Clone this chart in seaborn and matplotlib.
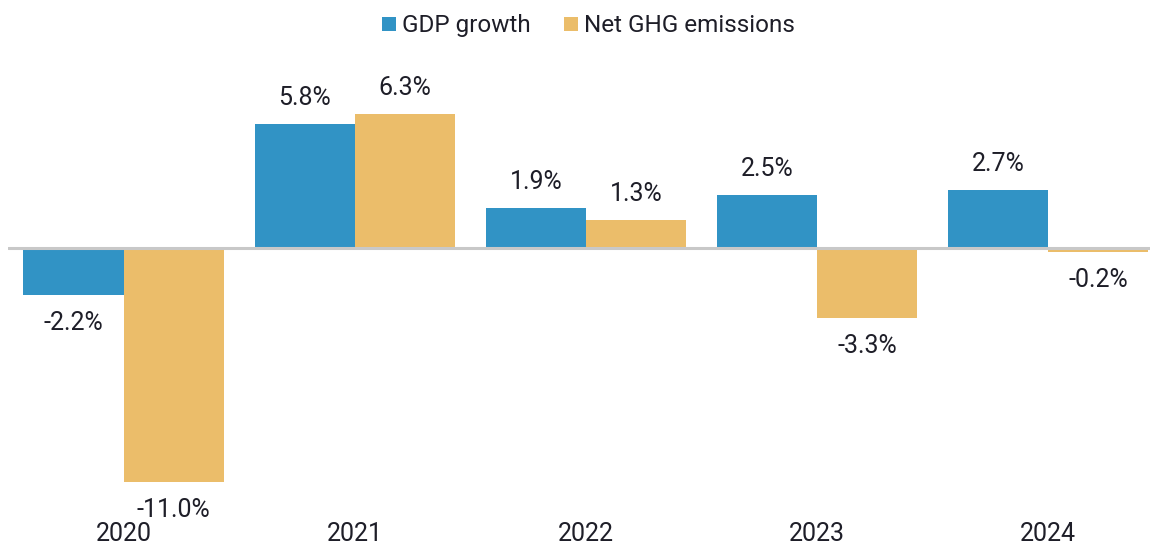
import matplotlib
matplotlib.use("Agg")
import matplotlib.pyplot as plt
import seaborn as sns
import pandas as pd

years = ["2020", "2021", "2022", "2023", "2024"]
gdp_growth = [-2.2, 5.8, 1.9, 2.5, 2.7]
ghg_emissions = [-11.0, 6.3, 1.3, -3.3, -0.2]
series_names = ["GDP growth", "Net GHG emissions"]
colors = ["#3193C5", "#EBBD6A"]

df = pd.DataFrame({
    "year": years * 2,
    "value": gdp_growth + ghg_emissions,
    "series": [series_names[0]] * len(years) + [series_names[1]] * len(years),
})

sns.set_theme(style="white")
plt.rcParams["font.family"] = ["Roboto", "DejaVu Sans"]
text_color = "#1E1E28"

W, H = 1151, 544
fig = plt.figure(figsize=(W / 100, H / 100), dpi=100)
top_px, bot_px, zero_px = 50, 519, 248
ppu = 21.3
ax = fig.add_axes([8 / W, 1 - bot_px / H, (1150 - 8) / W, (bot_px - top_px) / H])

sns.barplot(data=df, x="year", y="value", hue="series", palette=colors,
            width=0.866, linewidth=0, saturation=1, ax=ax, legend=True)

ax.set_ylim(-(bot_px - zero_px) / ppu, (zero_px - top_px) / ppu)
ax.set_xlim(-0.5, 4.44)
ax.axhline(0, color="#C8C8C8", lw=2.2, zorder=5)

for container in ax.containers:
    for bar in container:
        v = bar.get_height()
        x = bar.get_x() + bar.get_width() / 2
        off = 26 if v >= 0 else -28
        ax.annotate(f"{v:.1f}%", (x, v), xytext=(0, off * 0.72), textcoords="offset points",
                    ha="center", va="center", fontsize=18, color=text_color)

for s in ax.spines.values():
    s.set_visible(False)
ax.set_xlabel("")
ax.set_ylabel("")
ax.set_yticks([])
ax.tick_params(axis="x", length=0, pad=2, labelsize=18, labelcolor=text_color)

handles, labels = ax.get_legend_handles_labels()
ax.legend(handles, labels, loc="center", bbox_to_anchor=(0.5 + 13 / W, 1 - 26 / H), bbox_transform=fig.transFigure,
          ncol=2, frameon=False, fontsize=17.5, handlelength=0.55, handleheight=0.55,
          handletextpad=0.25, columnspacing=1.4, labelcolor=text_color)

fig.savefig("out.png", dpi=100)
